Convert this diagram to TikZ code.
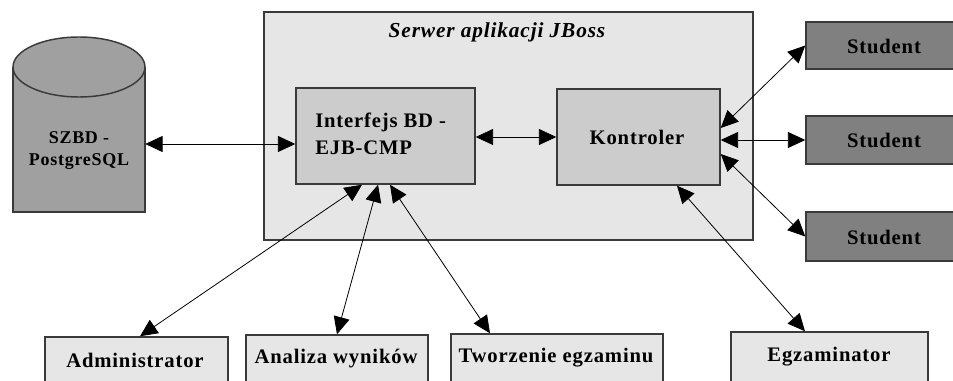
\documentclass[tikz,border=0pt]{standalone}
\usepackage{fontspec}
\setmainfont{Liberation Serif}
\usetikzlibrary{fit,arrows.meta}
\definecolor{srvfill}{HTML}{E6E6E6}
\definecolor{inner}{HTML}{CCCCCC}
\definecolor{dbfill}{HTML}{A0A0A0}
\definecolor{stfill}{HTML}{808080}
\definecolor{bord}{HTML}{3A3A3A}
\newfontfamily\spaced[LetterSpace=4]{Liberation Serif}
\tikzset{
  boxA/.style={draw=bord, line width=1.1pt, inner sep=0pt},
  lbl/.style={font=\spaced\fontsize{15.5}{20}\selectfont\bfseries, inner sep=0pt},
  arr/.style={line width=0.6pt, draw=black, {Triangle[length=13pt,width=12pt]}-{Triangle[length=13pt,width=12pt]}},
}
\begin{document}
\begin{tikzpicture}[x=0.75pt,y=-0.75pt]
\useasboundingbox (0,0) rectangle (953,381);
\clip (0,0) rectangle (953,381);
\fill[white] (0,0) rectangle (953,381);
% server
\node[boxA, fill=srvfill, fit={(264,12) (753,240)}] (srv) {};
\node[lbl, font=\spaced\fontsize{16}{19}\selectfont\bfseries\itshape] (srvt) at (497,32) {Serwer aplikacji JBoss};
% database cylinder
\fill[dbfill] (13,67) -- (13,212) -- (145,212) -- (145,67) -- cycle;
\draw[draw=bord, line width=1.1pt] (13,67) -- (13,212) -- (145,212) -- (145,67);
\draw[draw=bord, line width=1.1pt, fill=dbfill] (79,67) ellipse [x radius=49.5pt, y radius=22.5pt];
\node[inner sep=0pt, fit={(13,37) (145,212)}] (db) {};
\node[lbl, font=\spaced\fontsize{13.5}{16.5}\selectfont\bfseries, align=center] (dbt) at (79,151) {SZBD -\\PostgreSQL};
% inner boxes
\node[boxA, fill=inner, fit={(296,88) (475,184)}] (ifc) {};
\node[lbl, align=left, anchor=west] (ifct) at (315,134) {Interfejs BD -\\EJB-CMP};
\node[boxA, fill=inner, fit={(557,89) (720,185)}] (kon) {};
\node[lbl] (kont) at (637,137) {Kontroler};
% students
\node[boxA, fill=stfill, fit={(806,22) (962,69)}] (s1) {};
\node[boxA, fill=stfill, fit={(806,116) (962,164)}] (s2) {};
\node[boxA, fill=stfill, fit={(806,212) (962,261)}] (s3) {};
\node[lbl] (s1t) at (884,46) {Student};
\node[lbl] (s2t) at (884,140) {Student};
\node[lbl] (s3t) at (884,237) {Student};
% bottom boxes
\node[boxA, fill=srvfill, fit={(45,337) (228,390)}] (adm) {};
\node[boxA, fill=srvfill, fit={(246,335) (428,390)}] (ana) {};
\node[boxA, fill=srvfill, fit={(451,334) (663,390)}] (two) {};
\node[boxA, fill=srvfill, fit={(731,332) (928,390)}] (egz) {};
\node[lbl] (admt) at (135,360) {Administrator};
\node[lbl] (anat) at (336,359) {Analiza wyników};
\node[lbl] (twot) at (556,358) {Tworzenie egzaminu};
\node[lbl] (egzt) at (829,357) {Egzaminator};
% connectors
\draw[arr] (db.east |- 0,144) -- (ifc.west |- 0,144);
\draw[arr] (ifc.east |- 0,137) -- (kon.west |- 0,137);
\draw[arr] (kon.east |- 0,128) -- (s1.west);
\draw[arr] (kon.east |- 0,140) -- (s2.west);
\draw[arr] (kon.east |- 0,154) -- (s3.west);
\draw[arr] (ifc.south -| 362,0) -- (adm.north -| 140,0);
\draw[arr] (ifc.south -| 378,0) -- (ana.north -| 337,0);
\draw[arr] (ifc.south -| 390,0) -- (two.north -| 490,0);
\draw[arr] (kon.south -| 677,0) -- (egz.north -| 805,0);
\end{tikzpicture}
\end{document}
